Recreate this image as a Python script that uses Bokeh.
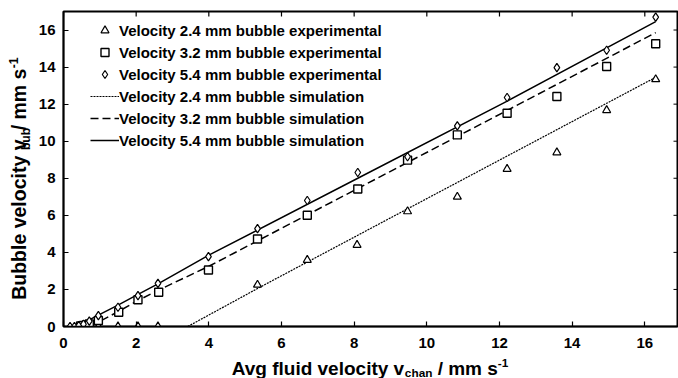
import math
from bokeh.plotting import figure
from bokeh.layouts import row, column
from bokeh.models import Range1d, FixedTicker, Legend, LegendItem, Label
from bokeh.embed import file_html
from bokeh.resources import INLINE

# ---------------- data ----------------
x_ticks = [0, 2, 4, 6, 8, 10, 12, 14, 16]
y_ticks = [0, 2, 4, 6, 8, 10, 12, 14, 16]

exp24_x = [0.96, 1.5, 2.05, 2.6, 5.34, 6.71, 8.08, 9.47, 10.84, 12.21, 13.58, 14.95, 16.3]
exp24_y = [0, 0, 0, 0, 2.25, 3.59, 4.40, 6.21, 7.0, 8.5, 9.39, 11.67, 13.34]

exp32_x = [0.47, 0.55, 0.63, 0.71, 0.96, 1.52, 2.05, 2.62, 3.99, 5.34, 6.71, 8.1, 9.47, 10.84, 12.21, 13.58, 14.95, 16.3]
exp32_y = [0.03, 0.05, 0.08, 0.14, 0.32, 0.77, 1.44, 1.85, 3.05, 4.72, 6.0, 7.42, 8.98, 10.34, 11.51, 12.41, 14.03, 15.26]

exp54_x = [0.18, 0.30, 0.42, 0.55, 0.71, 0.96, 1.5, 2.05, 2.6, 3.99, 5.34, 6.71, 8.1, 9.47, 10.84, 12.21, 13.58, 14.95, 16.3]
exp54_y = [0, 0, 0.05, 0.12, 0.29, 0.59, 1.04, 1.67, 2.33, 3.77, 5.28, 6.8, 8.31, 9.16, 10.83, 12.36, 13.97, 14.91, 16.70]

sim24_x = [3.42, 5.34, 9.47, 16.3]
sim24_y = [0, 2.05, 6.35, 13.45]

sim32_x = [0.75, 1.0, 1.5, 2.0, 2.6, 4.0, 8.1, 12.2, 16.3]
sim32_y = [0, 0.28, 0.8, 1.35, 1.95, 3.25, 7.45, 11.65, 15.86]

sim54_x = [0.35, 0.6, 1.0, 1.5, 2.0, 2.6, 4.0, 8.1, 12.2, 16.3]
sim54_y = [0, 0.25, 0.65, 1.15, 1.68, 2.3, 3.85, 8.0, 12.15, 16.45]

labels = [
    "Velocity 2.4 mm bubble experimental",
    "Velocity 3.2 mm bubble experimental",
    "Velocity 5.4 mm bubble experimental",
    "Velocity 2.4 mm bubble simulation",
    "Velocity 3.2 mm bubble simulation",
    "Velocity 5.4 mm bubble simulation",
]

x_title = ["Avg fluid velocity v", "chan", " / mm s", "-1"]
y_title = ["Bubble velocity v", "bub", " / mm s", "-1"]

FONT = "Liberation Sans"
X_END, Y_END = 16.9, 17

# ---------------- main plot ----------------
p = figure(width=643, height=354, x_range=Range1d(0, X_END), y_range=Range1d(0, Y_END),
           output_backend="svg", toolbar_location=None,
           min_border_left=25, min_border_right=1, min_border_top=11, min_border_bottom=28)
p.grid.visible = False
p.outline_line_color = "black"
p.outline_line_width = 2
p.background_fill_color = "white"
p.border_fill_color = "white"

for ax in (p.xaxis[0], p.yaxis[0]):
    ax.axis_line_width = 1.5
    ax.major_tick_in = 5
    ax.major_tick_out = 0
    ax.major_tick_line_width = 1.2
    ax.minor_tick_in = 0
    ax.minor_tick_out = 0
    ax.major_label_text_font = FONT
    ax.major_label_text_font_style = "bold"
    ax.major_label_text_font_size = "15px"
    ax.major_label_text_color = "black"
p.xaxis[0].major_label_standoff = 11
p.yaxis[0].major_label_standoff = 8
p.xaxis[0].ticker = FixedTicker(ticks=x_ticks)
p.yaxis[0].ticker = FixedTicker(ticks=y_ticks)

# inward ticks on the top and right frame edges
p.ray(x=x_ticks, y=Y_END, length=5, length_units="screen", angle=-math.pi / 2,
      line_color="black", line_width=1.2)
p.ray(x=X_END, y=y_ticks, length=4, length_units="screen", angle=math.pi,
      line_color="black", line_width=1)

r_s24 = p.line(sim24_x, sim24_y, line_color="black", line_width=1.2, line_dash="2 1")
r_s32 = p.line(sim32_x, sim32_y, line_color="black", line_width=1.5, line_dash="8 4")
r_s54 = p.line(sim54_x, sim54_y, line_color="black", line_width=1.5)

r_e24 = p.scatter(exp24_x, exp24_y, marker="triangle", size=8, line_color="black",
                  line_width=1.2, fill_color="white")
r_e32 = p.scatter(exp32_x, exp32_y, marker="square", size=8, line_color="black",
                  line_width=1.4, fill_color="white")
r_e54 = p.scatter(exp54_x, exp54_y, marker="diamond", size=8.5, line_color="black",
                  line_width=1.2, fill_color="white")

legend = Legend(items=[
    LegendItem(label=labels[0], renderers=[r_e24]),
    LegendItem(label=labels[1], renderers=[r_e32]),
    LegendItem(label=labels[2], renderers=[r_e54]),
    LegendItem(label=labels[3], renderers=[r_s24]),
    LegendItem(label=labels[4], renderers=[r_s32]),
    LegendItem(label=labels[5], renderers=[r_s54]),
], location=(27, 176))
legend.padding = 0
legend.margin = 0
legend.spacing = 2
legend.glyph_width = 29
legend.glyph_height = 20
legend.label_height = 20
legend.label_standoff = 0
legend.label_text_font = FONT
legend.label_text_font_style = "bold"
legend.label_text_font_size = "15px"
legend.label_text_color = "black"
legend.background_fill_alpha = 0
legend.border_line_alpha = 0
p.add_layout(legend, "center")

# ---------------- axis titles (strips with pixel-like ranges) ----------------
W = {"A": 722, "B": 722, "a": 556, "b": 611, "c": 556, "d": 611, "e": 556, "f": 333,
     "g": 611, "h": 611, "i": 278, "l": 278, "m": 889, "n": 611, "o": 611, "s": 556,
     "t": 333, "u": 611, "v": 556, "y": 556, " ": 278, "/": 278, "-": 333, "1": 556}
BOX_ASCENT = 1.02   # em from the rotated text box edge to its baseline
ROT_SHIFT = 1.08    # em that a rotated label is pushed along its reading direction
ROT_GAP = 2.5       # extra room after a rotated subscript


def tw(s, size):
    return sum(W.get(c, 556) for c in s) * size / 1000.0


def strip(w, h):
    f = figure(width=w, height=h, x_range=Range1d(0, w), y_range=Range1d(0, h),
               output_backend="svg", toolbar_location=None, x_axis_type=None, y_axis_type=None,
               min_border_left=0, min_border_right=0, min_border_top=0, min_border_bottom=0)
    f.title.visible = False
    f.grid.visible = False
    f.outline_line_color = None
    f.background_fill_color = "white"
    f.border_fill_color = "white"
    return f


def draw_title(f, parts, size, center, base, vertical):
    small = size * 0.62
    specs = [(parts[0], size, 0.0), (parts[1], small, -4.0), (parts[2], size, 0.0),
             (parts[3], small, 6.0)]
    total = sum(tw(t, s) for t, s, _ in specs) + (ROT_GAP if vertical else 0)
    pos = center - total / 2
    for i, (text, s, shift) in enumerate(specs):
        lead = len(text) - len(text.lstrip(" "))
        pos += tw(" " * lead, s)          # SVG drops leading blanks: advance instead
        if vertical and i == 2:
            pos += ROT_GAP
        body = text.lstrip(" ")
        if vertical:
            lab = Label(x=base - shift - BOX_ASCENT * s, y=pos - ROT_SHIFT * s,
                        x_units="data", y_units="data", text=body, angle=math.pi / 2)
            lab.text_baseline = "top"
        else:
            lab = Label(x=pos, y=base + shift, x_units="data", y_units="data", text=body)
            lab.text_baseline = "alphabetic"
        lab.text_font = FONT
        lab.text_font_style = "bold"
        lab.text_font_size = "%.1fpx" % s
        lab.text_color = "black"
        lab.text_align = "left"
        f.add_layout(lab)
        pos += tw(body, s)


ly = strip(35, 354)
draw_title(ly, y_title, 19.5, 354 - 171.5, 27, True)

lx = strip(678, 24)
draw_title(lx, x_title, 19, 369.5, 10, False)

layout = column(row(ly, p), lx)

open("out.html", "w").write(file_html(layout, INLINE))
